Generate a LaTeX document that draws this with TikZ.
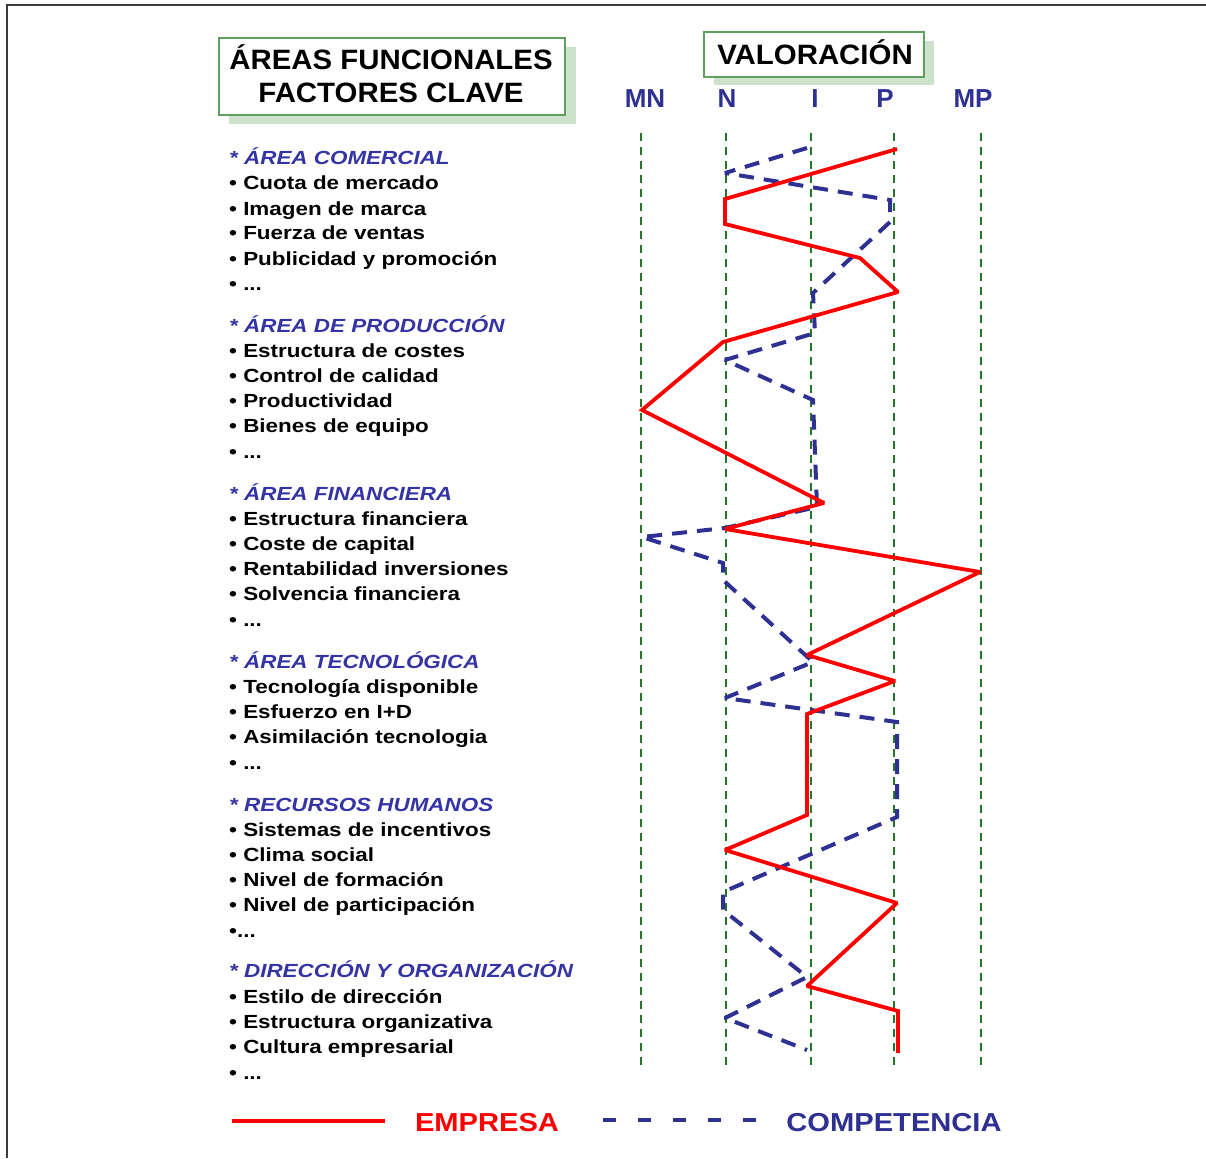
\documentclass[tikz,border=0pt]{standalone}
\usepackage{fontspec}
\setmainfont{Liberation Sans}
\newfontfamily\listfont[FakeStretch=1.18]{Liberation Sans}
\newfontfamily\legfont[FakeStretch=1.12]{Liberation Sans}
\newfontfamily\titlefont[FakeStretch=1.05]{Liberation Sans}
\definecolor{axblue}{RGB}{46,49,146}
\definecolor{headblue}{RGB}{52,52,165}
\definecolor{emred}{RGB}{255,0,0}
\definecolor{gridgreen}{RGB}{38,118,38}
\definecolor{boxgreen}{RGB}{95,160,95}
\definecolor{shadowgreen}{RGB}{205,226,205}
\definecolor{framegray}{RGB}{60,60,60}
\tikzset{
  itemtxt/.style={anchor=base west, inner sep=0pt, font=\listfont\bfseries\fontsize{19}{19}\selectfont, text=black},
  headtxt/.style={anchor=base west, inner sep=0pt, font=\listfont\bfseries\itshape\fontsize{19}{19}\selectfont, text=headblue},
  scaletxt/.style={anchor=base, inner sep=0pt, font=\bfseries\fontsize{26}{26}\selectfont, text=axblue},
  titletxt/.style={anchor=base, inner sep=0pt, font=\titlefont\bfseries\fontsize{28}{28}\selectfont, text=black},
  gridline/.style={gridgreen, line width=2.6pt, dash pattern=on 8pt off 6pt},
  empresa/.style={emred, line width=3.8pt, line join=miter, miter limit=2},
  compet/.style={axblue, line width=4pt, dash pattern=on 15pt off 10pt, line join=miter, miter limit=2},
  titlebox/.style={draw=boxgreen, line width=1.6pt, fill=white},
  shadowbox/.style={fill=shadowgreen, draw=none},
}
\begin{document}
\begin{tikzpicture}[x=1pt,y=-1pt]
\useasboundingbox (0,0) rectangle (1206,1158);
% frame
\draw[framegray, line width=2pt] (6.5,1158) -- (6.5,5.5) -- (1206,5.5);
% title boxes
\fill[shadowbox] (229,47) rectangle (576,124);
\draw[titlebox] (219,38) rectangle (565,115);
\node[titletxt] (t1) at (391,70) {ÁREAS FUNCIONALES};
\node[titletxt] (t2) at (391,103) {FACTORES CLAVE};
\fill[shadowbox] (714,41) rectangle (934,85);
\draw[titlebox] (704,32) rectangle (924,77);
\node[titletxt] (t3) at (815,65) {VALORACIÓN};
% scale labels
\node[scaletxt] (lMN) at (645,108) {MN};
\node[scaletxt] (lN) at (727,108) {N};
\node[scaletxt] (lI) at (815,108) {I};
\node[scaletxt] (lP) at (885,108) {P};
\node[scaletxt] (lMP) at (973,108) {MP};
% grid lines
\foreach \gx in {641,726,811,894,981} {
  \draw[gridline] (\gx,133) -- (\gx,1068);
}
% left list
\node[headtxt] (h1) at (229,165) {* ÁREA COMERCIAL};
\node[itemtxt] (a1) at (229,190) {• Cuota de mercado};
\node[itemtxt] (a2) at (229,215) {• Imagen de marca};
\node[itemtxt] (a3) at (229,240) {• Fuerza de ventas};
\node[itemtxt] (a4) at (229,265) {• Publicidad y promoción};
\node[itemtxt] (a5) at (229,290) {• ...};
\node[headtxt] (h2) at (229,332) {* ÁREA DE PRODUCCIÓN};
\node[itemtxt] (b1) at (229,357) {• Estructura de costes};
\node[itemtxt] (b2) at (229,382) {• Control de calidad};
\node[itemtxt] (b3) at (229,407) {• Productividad};
\node[itemtxt] (b4) at (229,432) {• Bienes de equipo};
\node[itemtxt] (b5) at (229,458) {• ...};
\node[headtxt] (h3) at (229,500) {* ÁREA FINANCIERA};
\node[itemtxt] (c1) at (229,525) {• Estructura financiera};
\node[itemtxt] (c2) at (229,550) {• Coste de capital};
\node[itemtxt] (c3) at (229,575) {• Rentabilidad inversiones};
\node[itemtxt] (c4) at (229,600) {• Solvencia financiera};
\node[itemtxt] (c5) at (229,626) {• ...};
\node[headtxt] (h4) at (229,668) {* ÁREA TECNOLÓGICA};
\node[itemtxt] (d1) at (229,693) {• Tecnología disponible};
\node[itemtxt] (d2) at (229,718) {• Esfuerzo en I+D};
\node[itemtxt] (d3) at (229,743) {• Asimilación tecnologia};
\node[itemtxt] (d4) at (229,769) {• ...};
\node[headtxt] (h5) at (229,811) {* RECURSOS HUMANOS};
\node[itemtxt] (e1) at (229,836) {• Sistemas de incentivos};
\node[itemtxt] (e2) at (229,861) {• Clima social};
\node[itemtxt] (e3) at (229,886) {• Nivel de formación};
\node[itemtxt] (e4) at (229,911) {• Nivel de participación};
\node[itemtxt] (e5) at (229,937) {•...};
\node[headtxt] (h6) at (229,977) {* DIRECCIÓN Y ORGANIZACIÓN};
\node[itemtxt] (f1) at (229,1003) {• Estilo de dirección};
\node[itemtxt] (f2) at (229,1028) {• Estructura organizativa};
\node[itemtxt] (f3) at (229,1053) {• Cultura empresarial};
\node[itemtxt] (f4) at (229,1079) {• ...};
% competencia (dashed blue)
\draw[compet] (807,148) -- (725,173) -- (890,200) -- (890,222) -- (813,293) -- (815,333)
  -- (725,360) -- (813,400) -- (817,507) -- (725,528) -- (642,537) -- (723,563) -- (723,580)
  -- (813,662) -- (725,698) -- (897,722) -- (897,817) -- (723,892) -- (723,910) -- (807,977)
  -- (725,1018) -- (807,1050);
% empresa (red)
\draw[empresa] (897,149) -- (725,199) -- (725,224) -- (860,258) -- (898,292) -- (723,342)
  -- (642,410) -- (824,503) -- (725,529) -- (980,572) -- (807,655) -- (895,681) -- (807,714)
  -- (807,815) -- (725,850) -- (897,903) -- (807,986) -- (898,1011) -- (898,1053);
% legend
\coordinate (le1) at (232,1121);
\coordinate (le2) at (385,1121);
\draw[emred, line width=4.5pt] (le1) -- (le2);
\node[inner sep=0pt, anchor=base, font=\legfont\bfseries\fontsize{26}{26}\selectfont, text=emred] (lgE) at (487,1131) {EMPRESA};
\coordinate (lc1) at (603,1120);
\coordinate (lc2) at (757,1120);
\draw[axblue, line width=4pt, dash pattern=on 13pt off 22pt] (lc1) -- (lc2);
\node[inner sep=0pt, anchor=base, font=\legfont\bfseries\fontsize{26}{26}\selectfont, text=axblue] (lgC) at (894,1131) {COMPETENCIA};
\end{tikzpicture}
\end{document}
